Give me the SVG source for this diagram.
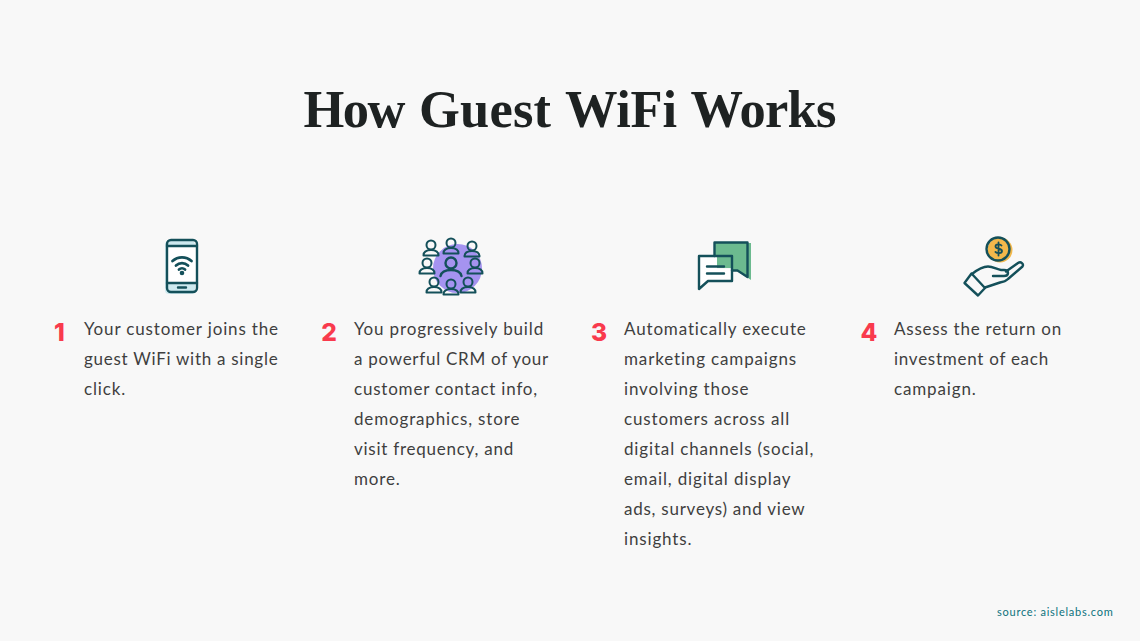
<svg xmlns="http://www.w3.org/2000/svg" width="1140" height="641" viewBox="0 0 1140 641">
<style>
.t{font-family:"Lato","Liberation Sans",sans-serif;font-size:17px;letter-spacing:.85px;fill:#3f3f3f}
.n{font-family:"Inter","Roboto",sans-serif;font-size:24.500px;font-weight:800;fill:#f93a4d}
.i{fill:none;stroke:#14505a;stroke-width:2.400;stroke-linecap:round;stroke-linejoin:round}
.s{fill:none;stroke:#14505a;stroke-width:2;stroke-linecap:round;stroke-linejoin:round}
</style>
<defs>
<g id="p"><circle cx="0" cy="0" r="4.500" class="s"/><path d="M-7.500 10.500c0-3.500 3-5.500 7.500-5.500s7.500 2 7.500 5.500z" class="s"/></g>
</defs>
<rect width="1140" height="641" fill="#f8f8f8"/>
<text y="127" font-family="'Liberation Serif',serif" font-weight="700" font-size="52.500" fill="#1e2222"><tspan x="303.500" textLength="102">How</tspan><tspan x="419" textLength="132">Guest</tspan><tspan x="565" textLength="112">WiFi</tspan><tspan x="690.500" textLength="146">Works</tspan></text>
<g id="node-1">
<rect x="165" y="241" width="30" height="53" rx="4" fill="#cde9ef"/>
<rect x="168" y="246" width="28" height="37" fill="#fff"/>
<rect x="167" y="240" width="30" height="52" rx="4" class="i"/>
<path d="M167 246H197M167 283H197M178 287.500H186" class="i"/>
<path d="M172.500 261a14 14 0 0 1 19 0M176 265.500a9 9 0 0 1 12 0M179 269.500a4.500 4.500 0 0 1 6 0" class="i" style="stroke-width:2.800"/>
<circle cx="182" cy="273" r="2.300" fill="#14505a"/>
<text class="n" x="59.500" y="341" text-anchor="middle">1</text>
<text class="t" x="84" y="335">Your customer joins the</text>
<text class="t" x="84" y="365" textLength="194.500">guest WiFi with a single</text>
<text class="t" x="84" y="395">click.</text>
</g>
<g id="node-2">
<circle cx="457.500" cy="268.500" r="24.500" fill="#a593f0"/>
<use href="#p" x="431" y="245"/><use href="#p" x="451" y="243"/><use href="#p" x="472" y="246"/>
<use href="#p" x="427" y="263"/><use href="#p" x="475" y="263"/>
<use href="#p" x="434" y="282"/><use href="#p" x="451" y="284"/><use href="#p" x="468" y="282"/>
<circle cx="451" cy="263" r="5.500" class="i" style="fill:#a593f0"/>
<path d="M440.500 276c1-4 5-6 10.500-6s9.500 2 10.500 6" class="i"/>
<text class="n" x="329" y="341" text-anchor="middle">2</text>
<text class="t" x="354" y="335">You progressively build</text>
<text class="t" x="354" y="365" textLength="195">a powerful CRM of your</text>
<text class="t" x="354" y="395" textLength="184">customer contact info,</text>
<text class="t" x="354" y="425">demographics, store</text>
<text class="t" x="354" y="455" textLength="160">visit frequency, and</text>
<text class="t" x="354" y="485">more.</text>
</g>
<g id="node-3">
<path d="M715 243H751V280L745 276L737 271H732V268H717V256H715Z" fill="#6cba8f"/>
<path d="M699 256H717V269H732V281H708L699 289Z" fill="#fff"/>
<path d="M714.500 256V242.500H747.500V277L737.500 270.500H732" class="i"/>
<path d="M699 256H732V281H708L699 289Z" class="i"/>
<path d="M707 266.500H724M707 273.500H724" class="i"/>
<text class="n" x="599" y="341" text-anchor="middle">3</text>
<text class="t" x="624" y="335">Automatically execute</text>
<text class="t" x="624" y="365">marketing campaigns</text>
<text class="t" x="624" y="395">involving those</text>
<text class="t" x="624" y="425">customers across all</text>
<text class="t" x="624" y="455">digital channels (social,</text>
<text class="t" x="624" y="485">email, digital display</text>
<text class="t" x="624" y="515" textLength="181.500">ads, surveys) and view</text>
<text class="t" x="624" y="545">insights.</text>
</g>
<g id="node-4">
<circle cx="1000" cy="250" r="12.500" fill="#f2b84b"/>
<circle cx="998" cy="249" r="11.500" class="i"/>
<path d="M1001.500 245.500c-1-1.500-6-1.800-6 1 0 3 6.500 1.500 6.500 4.500 0 2.800-5 2.500-6.500 1M998.500 242.500V255.500" class="i" style="stroke-width:1.800"/>
<path d="M964.500 283L971.500 273.500L985 288L978 295.500Z" class="i"/>
<path d="M972 274c5-4 11-7.500 16-7.500c5 0 9 3 13 3.500h3c3 0 4 1.500 4 3s-1 3-4 3H993M1006 271.500L1018 263c3-2 6 1 4.500 3.500L1008 279c-2 2-5 3-8 3.500L985 287.500" class="i"/>
<text class="n" x="869" y="341" text-anchor="middle">4</text>
<text class="t" x="894" y="335" textLength="168">Assess the return on</text>
<text class="t" x="894" y="365" textLength="155">investment of each</text>
<text class="t" x="894" y="395">campaign.</text>
</g>
<text x="1113.500" y="616" text-anchor="end" font-family="Lato,sans-serif" font-size="11" letter-spacing=".75" fill="#0c727c">source: aislelabs.com</text>
</svg>
